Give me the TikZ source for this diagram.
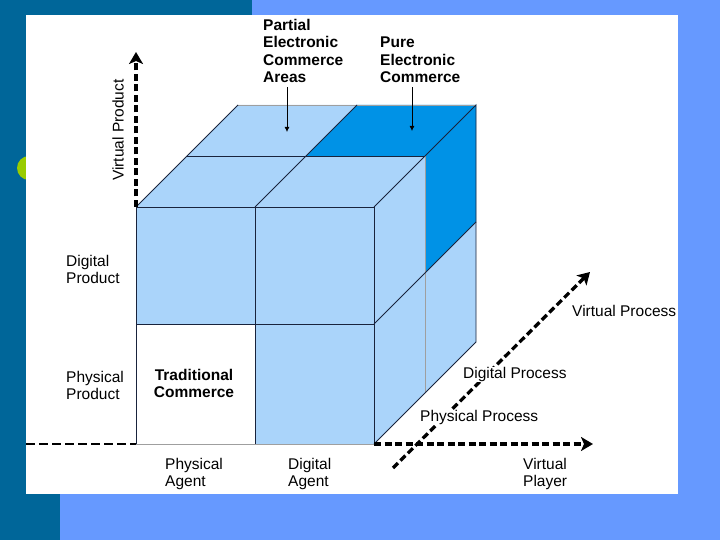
\documentclass[tikz,border=0pt]{standalone}
\usepackage{fontspec}
\setmainfont{Liberation Sans}
\usetikzlibrary{positioning}
\usetikzlibrary{arrows.meta}
\usetikzlibrary{calc}

\definecolor{slideDark}{RGB}{0,102,153}
\definecolor{slideLight}{RGB}{102,153,255}
\definecolor{bulletGreen}{RGB}{153,204,0}
\definecolor{cubeLight}{RGB}{170,212,250}
\definecolor{cubeDark}{RGB}{0,146,230}
\definecolor{edgeCol}{RGB}{25,35,60}

\tikzset{
  lbl/.style={anchor=north west, inner sep=0pt, align=left, font=\fontsize{15.5}{17.5}\selectfont},
  blbl/.style={lbl, font=\fontsize{15.5}{17.5}\selectfont\bfseries},
  axisline/.style={line width=2pt, dash pattern=on 9pt off 4pt},
  axis/.style={line width=3.3pt, dash pattern=on 7pt off 3.5pt, -{Stealth[length=12pt,width=14pt,inset=3pt]}},
  ptr/.style={line width=0.8pt, -{Latex[length=5pt,width=5pt]}, shorten <=4pt},
  cubeline/.style={draw=edgeCol, line width=0.9pt},
  faintline/.style={draw=gray!75, line width=0.7pt}
}

\begin{document}
\begin{tikzpicture}[x=1pt,y=-1pt]
  % slide background
  \useasboundingbox (0,0) rectangle (720,540);
  \fill[slideLight] (0,0) rectangle (720,540);
  \fill[slideDark] (0,0) rectangle (60,540);
  \fill[slideDark] (0,0) rectangle (252,15);
  \fill[bulletGreen] (29,168) circle (12);
  \fill[white] (26,15) rectangle (678,494);

  % depth of the cube and of its half
  \def\d{102}
  \def\h{51}

  % front face grid
  \coordinate (f1) at (136,207);
  \coordinate (fm) at (255,207);
  \coordinate (f2) at (374,207);
  \coordinate (l1) at (136,324);
  \coordinate (lm) at (255,324);
  \coordinate (l2) at (374,324);
  \coordinate (b1) at (136,444);
  \coordinate (bm) at (255,444);
  \coordinate (b2) at (374,444);

  % faces
  \fill[cubeLight] (f1) rectangle (l2);
  \fill[cubeLight] (lm) rectangle (b2);
  \fill[cubeLight] (f1) -- (f2) -- ($(f2)+(\d,-\d)$) -- ($(f1)+(\d,-\d)$) -- cycle;
  \fill[cubeLight] (f2) -- ($(f2)+(\d,-\d)$) -- ($(b2)+(\d,-\d)$) -- (b2) -- cycle;
  \fill[cubeDark] ($(fm)+(\h,-\h)$) -- ($(f2)+(\h,-\h)$) -- ($(f2)+(\d,-\d)$) -- ($(fm)+(\d,-\d)$) -- cycle;
  \fill[cubeDark] ($(f2)+(\h,-\h)$) -- ($(f2)+(\d,-\d)$) -- ($(l2)+(\d,-\d)$) -- ($(l2)+(\h,-\h)$) -- cycle;

  % edges
  \draw[faintline] (b1) -- (b2);
  \draw[faintline] ($(f1)+(\d,-\d)$) -- ($(f2)+(\d,-\d)$);
  \draw[faintline] ($(f2)+(\h,-\h)$) -- ($(b2)+(\h,-\h)$);
  \draw[cubeline] (b1) -- (f1) -- (f2) -- (b2);
  \draw[cubeline] (l1) -- (l2);
  \draw[cubeline] (fm) -- (bm);
  \draw[cubeline] (f1) -- ++(\d,-\d);
  \draw[cubeline] (fm) -- ++(\d,-\d);
  \draw[cubeline] (f2) -- ++(\d,-\d) -- ($(b2)+(\d,-\d)$);
  \draw[cubeline] ($(f1)+(\h,-\h)$) -- ($(f2)+(\h,-\h)$);
  \draw[cubeline] (l2) -- ++(\d,-\d);
  \draw[cubeline] (b2) -- ++(\d,-\d);

  % axes
  \coordinate (yTip) at (136,52);
  \coordinate (xStart) at (26,444);
  \coordinate (xTip) at (593,444);
  \coordinate (zStart) at (393,468);
  \coordinate (zTip) at (590,272);
  \draw[axis] (f1) -- (yTip);
  \draw[axisline] (xStart) -- (b1);
  \draw[axis] (b2) -- (xTip);
  \draw[axis] (zStart) -- (zTip);

  % labels
  \node[lbl, rotate=90, anchor=center] (vprod) at (118,130) {Virtual Product};
  \node[blbl] (partial) at (263,19) {Partial\\Electronic\\Commerce\\Areas};
  \node[blbl] (pure) at (380,37) {Pure\\Electronic\\Commerce};
  \node[lbl] (dprod) at (66,255) {Digital\\Product};
  \node[lbl] (pprod) at (66,371) {Physical\\Product};
  \node[blbl, anchor=north, align=center] (trad) at (194,369) {Traditional\\Commerce};
  \node[lbl] (pagent) at (165,458) {Physical\\Agent};
  \node[lbl] (dagent) at (288,458) {Digital\\Agent};
  \node[lbl] (vplayer) at (523,458) {Virtual\\Player};
  \node[lbl] (vproc) at (572,305) {Virtual Process};
  \node[lbl, fill=white] (dproc) at (463,367) {Digital Process};
  \node[lbl, fill=white] (pproc) at (420,410) {Physical Process};

  % pointers to the e-commerce areas
  \coordinate (partialTip) at (287,132);
  \coordinate (pureTip) at (412,131);
  \draw[ptr] (partial.south -| partialTip) -- (partialTip);
  \draw[ptr] (pure.south -| pureTip) -- (pureTip);
\end{tikzpicture}
\end{document}
